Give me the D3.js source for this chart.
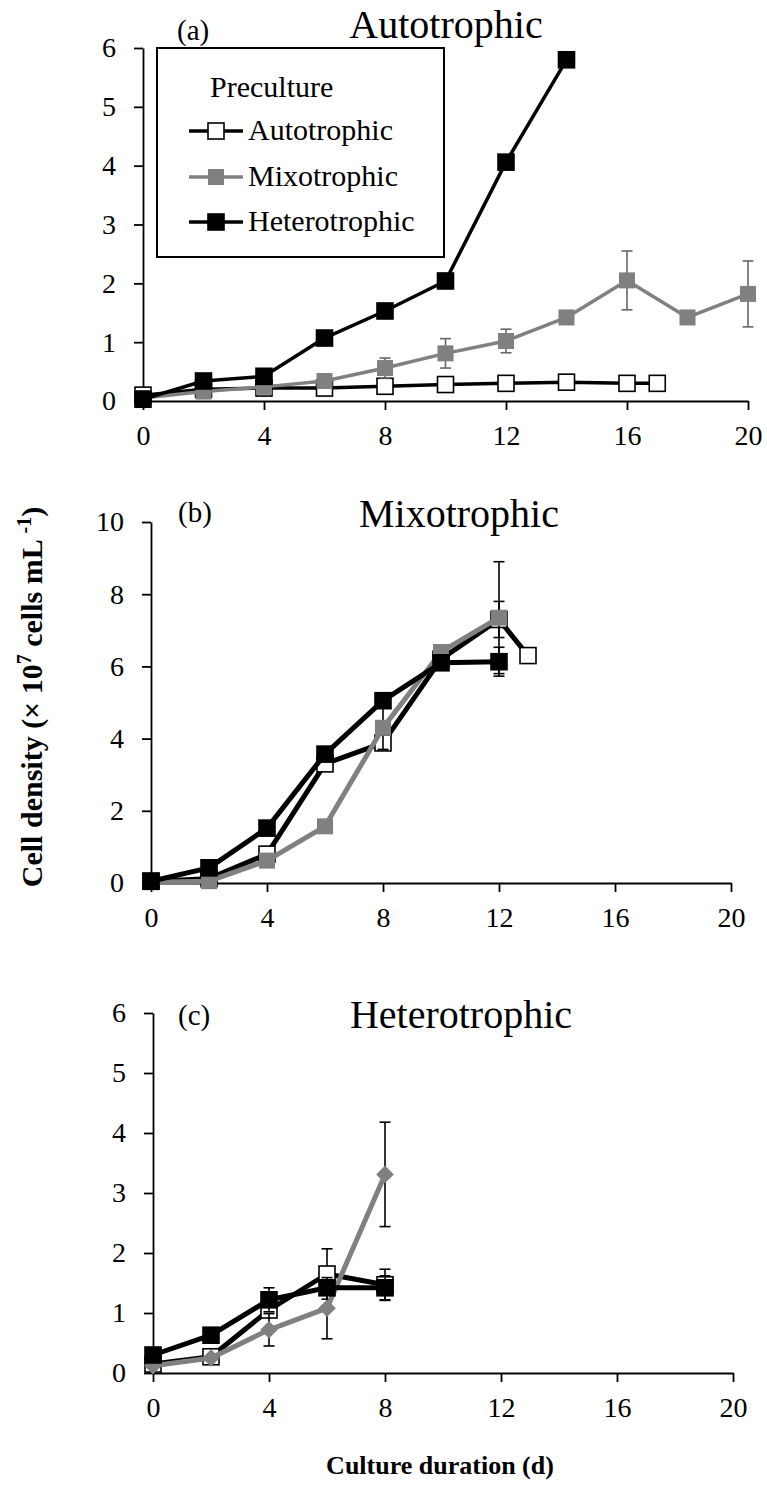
<!DOCTYPE html>
<html>
<head>
<meta charset="utf-8">
<script src="https://cdn.jsdelivr.net/npm/d3@7"></script>
<style>
  html, body { margin: 0; padding: 0; background: #fff; }
  svg { display: block; font-family: "Liberation Serif", "Times New Roman", serif; }
</style>
</head>
<body>
<svg id="chart" width="767" height="1510"></svg>
<script>
// ---------- Data ----------
const seriesNames = ["Autotrophic", "Mixotrophic", "Heterotrophic"];
const xTicks = [0, 4, 8, 12, 16, 20];

// Panel (a) Autotrophic culture
const aAutoX   = [0, 2, 4, 6, 8, 10, 12, 14, 16, 17];
const aAutoY   = [0.10, 0.20, 0.22, 0.22, 0.25, 0.28, 0.30, 0.32, 0.30, 0.30];
const aAutoErr = [0, 0, 0, 0, 0, 0, 0, 0, 0, 0];
const aMixoX   = [0, 2, 4, 6, 8, 10, 12, 14, 16, 18, 20];
const aMixoY   = [0.05, 0.16, 0.24, 0.34, 0.56, 0.81, 1.02, 1.42, 2.05, 1.42, 1.82];
const aMixoErr = [0, 0, 0, 0, 0.17, 0.25, 0.20, 0, 0.50, 0, 0.56];
const aHetX    = [0, 2, 4, 6, 8, 10, 12, 14];
const aHetY    = [0.03, 0.34, 0.42, 1.07, 1.53, 2.04, 4.06, 5.80];
const aHetErr  = [0, 0, 0, 0, 0, 0, 0, 0];
const aYTicks  = [0, 1, 2, 3, 4, 5, 6];

// Panel (b) Mixotrophic culture
const bAutoX   = [0, 2, 4, 6, 8, 10, 12, 13];
const bAutoY   = [0.05, 0.12, 0.80, 3.30, 3.88, 6.20, 7.30, 6.30];
const bAutoErr = [0, 0, 0, 0, 0, 0, 0.50, 0];
const bMixoX   = [0, 2, 4, 6, 8, 10, 12];
const bMixoY   = [0.02, 0.05, 0.62, 1.57, 4.30, 6.40, 7.35];
const bMixoErr = [0, 0, 0, 0, 0.60, 0, 1.55];
const bHetX    = [0, 2, 4, 6, 8, 10, 12];
const bHetY    = [0.05, 0.42, 1.52, 3.57, 5.05, 6.10, 6.13];
const bHetErr  = [0, 0, 0, 0, 0, 0, 0.40];
const bYTicks  = [0, 2, 4, 6, 8, 10];

// Panel (c) Heterotrophic culture
const cAutoX   = [0, 2, 4, 6, 8];
const cAutoY   = [0.15, 0.27, 1.05, 1.65, 1.47];
const cAutoErr = [0, 0, 0, 0.42, 0.26];
const cMixoX   = [0, 2, 4, 6, 8];
const cMixoY   = [0.12, 0.25, 0.72, 1.08, 3.31];
const cMixoErr = [0, 0, 0.27, 0.51, 0.87];
const cHetX    = [0, 2, 4, 6, 8];
const cHetY    = [0.30, 0.63, 1.22, 1.42, 1.42];
const cHetErr  = [0, 0, 0.20, 0, 0.20];
const cYTicks  = [0, 1, 2, 3, 4, 5, 6];

// ---------- Helpers ----------
const svg = d3.select("#chart");
const GRAY = "#808080";
const SERIF = "'Liberation Serif', 'Times New Roman', serif";
const zip = (xs, ys, es) => xs.map((x, i) => ({x, y: ys[i], e: es[i]}));

const panels = [
  { label: "(a)", title: "Autotrophic", left: 143, right: 748, top: 48, bottom: 401, ymax: 6, yTicks: aYTicks,
    lw: 3.5, errColorGray: true, legend: true,
    titleX: 446, titleY: 38, labX: 177, labY: 40,
    series: [
      {name: seriesNames[0], data: zip(aAutoX, aAutoY, aAutoErr), stroke: "#000", fill: "#fff", shape: "square"},
      {name: seriesNames[1], data: zip(aMixoX, aMixoY, aMixoErr), stroke: GRAY, fill: GRAY, shape: "square"},
      {name: seriesNames[2], data: zip(aHetX, aHetY, aHetErr), stroke: "#000", fill: "#000", shape: "square"}
    ]},
  { label: "(b)", title: "Mixotrophic", left: 151, right: 731, top: 522, bottom: 883, ymax: 10, yTicks: bYTicks,
    lw: 5, errColorGray: false, legend: false,
    titleX: 459, titleY: 527, labX: 178, labY: 522,
    series: [
      {name: seriesNames[0], data: zip(bAutoX, bAutoY, bAutoErr), stroke: "#000", fill: "#fff", shape: "square"},
      {name: seriesNames[1], data: zip(bMixoX, bMixoY, bMixoErr), stroke: GRAY, fill: GRAY, shape: "square"},
      {name: seriesNames[2], data: zip(bHetX, bHetY, bHetErr), stroke: "#000", fill: "#000", shape: "square"}
    ]},
  { label: "(c)", title: "Heterotrophic", left: 153, right: 733, top: 1013, bottom: 1373, ymax: 6, yTicks: cYTicks,
    lw: 5, errColorGray: false, legend: false,
    titleX: 461, titleY: 1028, labX: 178, labY: 1025,
    series: [
      {name: seriesNames[0], data: zip(cAutoX, cAutoY, cAutoErr), stroke: "#000", fill: "#fff", shape: "square"},
      {name: seriesNames[1], data: zip(cMixoX, cMixoY, cMixoErr), stroke: GRAY, fill: GRAY, shape: "diamond"},
      {name: seriesNames[2], data: zip(cHetX, cHetY, cHetErr), stroke: "#000", fill: "#000", shape: "square"}
    ]}
];

function drawMarker(g, shape, cx, cy, size, fill, stroke) {
  if (shape === "square") {
    g.append("rect").attr("x", cx - size/2).attr("y", cy - size/2)
      .attr("width", size).attr("height", size)
      .attr("fill", fill).attr("stroke", stroke === GRAY ? "none" : "#000").attr("stroke-width", 1.6);
  } else {
    const r = size * 0.55;
    g.append("path").attr("d", `M${cx},${cy-r}L${cx+r},${cy}L${cx},${cy+r}L${cx-r},${cy}Z`)
      .attr("fill", fill).attr("stroke", "none");
  }
}

panels.forEach(p => {
  const x = d3.scaleLinear().domain([0, 20]).range([p.left, p.right]);
  const y = d3.scaleLinear().domain([0, p.ymax]).range([p.bottom, p.top]);
  const g = svg.append("g");

  // axes
  const xAxis = d3.axisBottom(x).tickValues(xTicks).tickFormat(d3.format("d"))
    .tickSize(9).tickSizeOuter(0).tickPadding(15);
  const yAxis = d3.axisLeft(y).tickValues(p.yTicks).tickFormat(d3.format("d"))
    .tickSize(9).tickSizeOuter(0).tickPadding(18);
  const gx = g.append("g").attr("transform", `translate(0,${p.bottom})`).call(xAxis);
  const gy = g.append("g").attr("transform", `translate(${p.left},0)`).call(yAxis);
  [gx, gy].forEach(ax => {
    ax.attr("font-family", SERIF).attr("font-size", 28);
    ax.selectAll("path, line").attr("stroke", "#000").attr("stroke-width", 1.8);
    ax.selectAll("text").attr("fill", "#000");
  });
  gx.selectAll("text").attr("dy", "0.71em");

  // series
  p.series.forEach(s => {
    const line = d3.line().x(d => x(d.x)).y(d => y(d.y));
    const errColor = (p.errColorGray && s.stroke === GRAY) ? "#666" : "#000";
    s.data.filter(d => d.e > 0).forEach(d => {
      const cx = x(d.x), y1 = y(d.y + d.e), y2 = y(d.y - d.e);
      g.append("line").attr("x1", cx).attr("x2", cx).attr("y1", y1).attr("y2", y2)
        .attr("stroke", errColor).attr("stroke-width", 1.6);
      [y1, y2].forEach(yy => g.append("line").attr("x1", cx - 5.5).attr("x2", cx + 5.5)
        .attr("y1", yy).attr("y2", yy).attr("stroke", errColor).attr("stroke-width", 1.6));
    });
    g.append("path").datum(s.data).attr("d", line).attr("fill", "none")
      .attr("stroke", s.stroke).attr("stroke-width", p.lw).attr("stroke-linejoin", "round");
    s.data.forEach(d => drawMarker(g, s.shape, x(d.x), y(d.y), 16, s.fill, s.stroke));
  });

  // titles
  g.append("text").attr("x", p.titleX).attr("y", p.titleY).attr("text-anchor", "middle")
    .attr("font-size", 40).text(p.title);
  g.append("text").attr("x", p.labX).attr("y", p.labY).attr("font-size", 29).text(p.label);

  // legend
  if (p.legend) {
    const lg = g.append("g");
    lg.append("rect").attr("x", 157).attr("y", 48).attr("width", 287).attr("height", 209)
      .attr("fill", "#fff").attr("stroke", "#000").attr("stroke-width", 2);
    lg.append("text").attr("x", 210).attr("y", 97).attr("font-size", 30).text("Preculture");
    const rowsY = [131, 177, 222];
    p.series.forEach((s, i) => {
      const cy = rowsY[i];
      lg.append("line").attr("x1", 189).attr("x2", 243).attr("y1", cy).attr("y2", cy)
        .attr("stroke", s.stroke).attr("stroke-width", 3.5);
      drawMarker(lg, s.shape, 216, cy, 16, s.fill, s.stroke);
      lg.append("text").attr("x", 248).attr("y", cy + 9).attr("font-size", 30).text(s.name);
    });
  }
});

// axis titles
const yTitle = svg.append("text")
  .attr("transform", "translate(42,697) rotate(-90)")
  .attr("text-anchor", "middle").attr("font-size", 30).attr("font-weight", "bold");
yTitle.append("tspan").text("Cell density (× 10");
yTitle.append("tspan").attr("font-size", 20).attr("dy", -11).text("7");
yTitle.append("tspan").attr("dy", 11).text(" cells mL ");
yTitle.append("tspan").attr("font-size", 20).attr("dy", -11).text("-1");
yTitle.append("tspan").attr("dy", 11).text(")");

svg.append("text").attr("x", 440).attr("y", 1474).attr("text-anchor", "middle")
  .attr("font-size", 26).attr("font-weight", "bold").text("Culture duration (d)");
</script>
</body>
</html>
